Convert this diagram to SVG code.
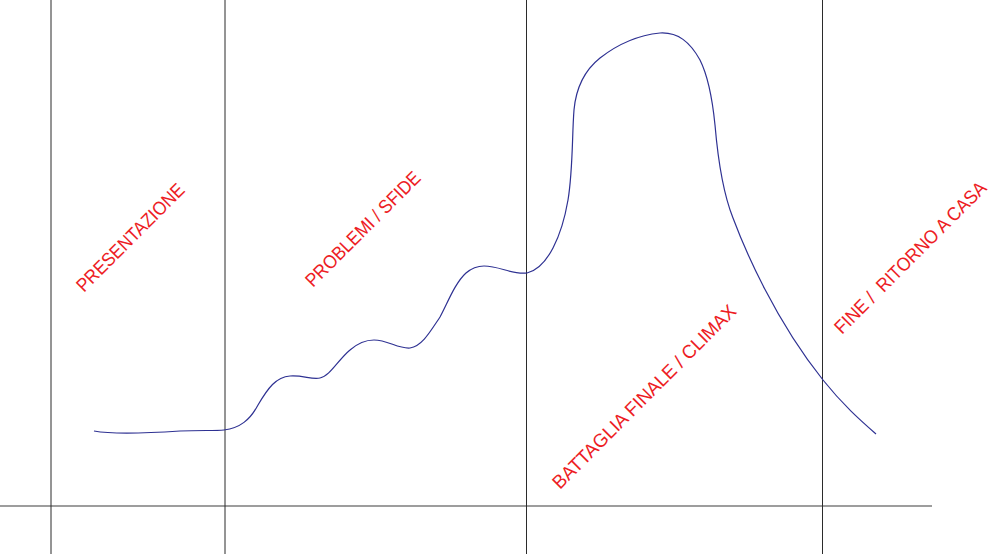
<svg xmlns="http://www.w3.org/2000/svg" width="1001" height="554" viewBox="0 0 1001 554">
<style>
.vline{stroke:#2b2b2b;stroke-width:1;fill:none}
.hline{stroke:#7d7d7d;stroke-width:1.6;fill:none}
.curve{stroke:#2E3192;stroke-width:1.2;fill:none}
.lbl{font-family:"Liberation Sans",Arial,sans-serif;font-size:19px;fill:#ED1C24;white-space:pre}
</style>
<rect width="1001" height="554" fill="#ffffff"/>
<g id="grid">
<line class="hline" x1="0" y1="506" x2="932" y2="506"/>
<line class="vline" x1="51" y1="0" x2="51" y2="554"/>
<line class="vline" x1="225" y1="0" x2="225" y2="554"/>
<line class="vline" x1="526.5" y1="0" x2="526.5" y2="554"/>
<line class="vline" x1="822.5" y1="0" x2="822.5" y2="554"/>
</g>
<g id="curve">
<path class="curve" d="M94,431 C110,434 150,433 180,431 C200,430 215,431 224,430 C240,428 250,420 258,405 C268,388 276,377 290,376 C303,375 312,380 320,378 C330,376 338,360 350,350 C358,343 365,340 374,340 C388,340 398,349 410,348 C422,346 430,332 440,317 C448,302 455,283 466,273 C473,267 478,266 484,266 C500,266 512,275 527,273 C548,268 562,235 568,200 C573,170 572,135 574,110 C576,88 585,70 600,58 C618,44 640,35 660,33 C678,32 690,42 700,60 C709,78 713,105 715,125 C718,160 723,193 733,218 C745,250 775,320 823,380 C843,405 860,420 876,434"/>
</g>
<g id="label-presentazione">
<text class="lbl" transform="translate(84,293) rotate(-45)" textLength="144" lengthAdjust="spacingAndGlyphs">PRESENTAZIONE</text>
</g>
<g id="label-problemi">
<text class="lbl" transform="translate(313,288) rotate(-45)" textLength="154" lengthAdjust="spacingAndGlyphs">PROBLEMI / SFIDE</text>
</g>
<g id="label-battaglia">
<text class="lbl" transform="translate(560,490) rotate(-45)" textLength="251" lengthAdjust="spacingAndGlyphs">BATTAGLIA FINALE / CLIMAX</text>
</g>
<g id="label-fine">
<text class="lbl" transform="translate(842,335) rotate(-45)" textLength="206" lengthAdjust="spacingAndGlyphs">FINE /  RITORNO A CASA</text>
</g>
</svg>
